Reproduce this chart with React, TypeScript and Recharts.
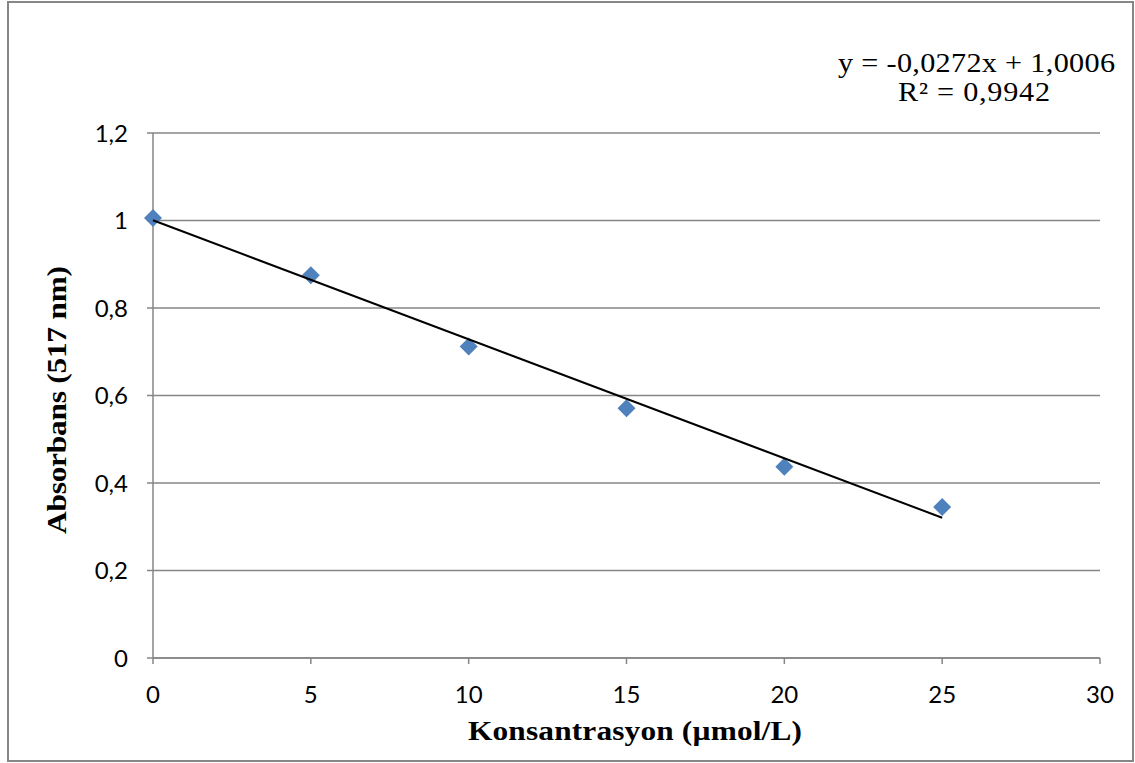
import { ScatterChart, Scatter, XAxis, YAxis, CartesianGrid } from 'recharts'

const concentrations = [0, 5, 10, 15, 20, 25]
const absorbance = [1.006, 0.875, 0.712, 0.571, 0.437, 0.345]

// linear trendline end points (y = -0,0272x + 1,0006)
const trendX = [0, 25]
const trendY = [1.0006, 0.3206]

const xTicks = [0, 5, 10, 15, 20, 25, 30]
const yTicks = [0, 0.2, 0.4, 0.6, 0.8, 1, 1.2]

const equationText = 'y = -0,0272x + 1,0006'
const r2Text = 'R² = 0,9942'
const xTitle = 'Konsantrasyon (µmol/L)'
const yTitle = 'Absorbans (517 nm)'

const points = concentrations.map((x, i) => ({ x, y: absorbance[i] }))
const trend = trendX.map((x, i) => ({ x, y: trendY[i] }))

const W = 1135
const H = 763
const axisGrey = '#868686'
const tickFont = { fontSize: 24, fill: '#000', fontFamily: 'Lato, "Open Sans", sans-serif' }
const stretch = 1.12 // the serif texts in the original are a little wide

function Diamond(props: any) {
  const { cx, cy } = props
  const r = 9
  return (
    <polygon
      points={`${cx},${cy - r} ${cx + r},${cy} ${cx},${cy + r} ${cx - r},${cy}`}
      fill="#4F81BD"
    />
  )
}

function NoDot() {
  return <g />
}

function WideText(props: {
  x: number
  y: number
  len: number
  size: number
  bold?: boolean
  rotate?: boolean
  anchor?: 'start' | 'middle'
  children: string
}) {
  const { x, y, len, size, bold, rotate, anchor = 'start', children } = props
  return (
    <text
      x={0}
      y={0}
      fontSize={size}
      fontWeight={bold ? 'bold' : 'normal'}
      textAnchor={anchor}
      textLength={len / stretch}
      lengthAdjust="spacing"
      transform={`translate(${x}, ${y})${rotate ? ' rotate(-90)' : ''} scale(${stretch}, 1)`}
    >
      {children}
    </text>
  )
}

export default function App() {
  return (
    <div style={{ position: 'absolute', left: 0, top: 0, width: W, height: H, background: '#fff' }}>
      <div
        style={{
          position: 'absolute',
          left: 7,
          top: 1,
          width: 1127,
          height: 761,
          border: `2px solid ${axisGrey}`,
          boxSizing: 'border-box',
        }}
      />
      <ScatterChart
        width={W}
        height={H}
        margin={{ top: 133, right: 35, bottom: 65, left: 93 }}
        style={{ position: 'absolute', left: 0, top: 0 }}
      >
        <CartesianGrid horizontal vertical={false} stroke={axisGrey} strokeWidth={1.5} />
        <XAxis
          type="number"
          dataKey="x"
          domain={[0, 30]}
          ticks={xTicks}
          interval={0}
          height={40}
          tick={tickFont}
          tickSize={6}
          tickMargin={22}
          axisLine={{ stroke: axisGrey, strokeWidth: 1.5 }}
          tickLine={{ stroke: axisGrey, strokeWidth: 1.5 }}
        />
        <YAxis
          type="number"
          dataKey="y"
          domain={[0, 1.2]}
          ticks={yTicks}
          interval={0}
          width={60}
          tick={tickFont}
          tickSize={6}
          tickMargin={19}
          tickFormatter={(v: number) => String(v).replace('.', ',')}
          axisLine={{ stroke: axisGrey, strokeWidth: 1.5 }}
          tickLine={{ stroke: axisGrey, strokeWidth: 1.5 }}
        />
        <Scatter data={points} shape={Diamond} isAnimationActive={false} />
        <Scatter
          data={trend}
          line={{ stroke: '#000', strokeWidth: 2 }}
          shape={NoDot}
          isAnimationActive={false}
        />
      </ScatterChart>
      <svg
        width={W}
        height={H}
        style={{ position: 'absolute', left: 0, top: 0, pointerEvents: 'none' }}
      >
        <g fontFamily='"Liberation Serif", "Times New Roman", serif' fill="#000">
          <WideText x={838} y={72} len={277} size={27}>
            {equationText}
          </WideText>
          <WideText x={898} y={101} len={152} size={27}>
            {r2Text}
          </WideText>
          <WideText x={468} y={740} len={334} size={28} bold>
            {xTitle}
          </WideText>
          <WideText x={66} y={400} len={268} size={28} bold rotate anchor="middle">
            {yTitle}
          </WideText>
        </g>
      </svg>
    </div>
  )
}
